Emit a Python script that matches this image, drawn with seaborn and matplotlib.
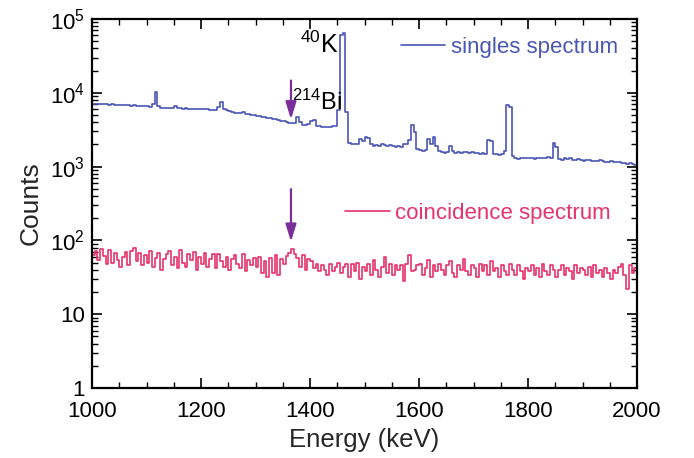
import numpy as np
import matplotlib
matplotlib.use('Agg')
import matplotlib.pyplot as plt
from matplotlib.lines import Line2D
from matplotlib.ticker import MultipleLocator, LogLocator, NullFormatter
import pandas as pd
import seaborn as sns

# 5 keV bins from 1000 to 2000 keV
bin_width = 5
energy_lo = np.arange(1000, 2000, bin_width)

singles_counts = [
    # 1000-1095
    7100, 7000, 7150, 6950, 7050, 7000, 6900, 6950, 6850, 6900,
    6800, 6850, 6750, 6800, 6700, 6750, 6650, 6700, 6600, 6650,
    # 1100-1195
    6550, 6500, 7000, 10200, 6700, 6200, 6250, 6150, 6200, 6300,
    6650, 6150, 6200, 6100, 6150, 6100, 6050, 6100, 6000, 6050,
    # 1200-1295
    6000, 5950, 6000, 5900, 5850, 5850, 6500, 7500, 6100, 5800,
    5650, 5550, 5400, 5350, 5300, 5450, 5200, 5100, 5000, 4950,
    # 1300-1395
    4900, 4850, 4700, 4650, 4550, 4500, 4400, 4350, 4250, 4200,
    4100, 4000, 3950, 3850, 3900, 4700, 4000, 3700, 3650, 3750,
    # 1400-1495
    4200, 4250, 3600, 3500, 3450, 3450, 3400, 3450, 3500, 3550,
    5900, 60000, 65000, 5500, 2100, 2050, 2000, 2050, 2350, 2200,
    # 1500-1595
    2500, 2450, 2000, 1900, 1950, 1900, 2000, 1950, 1900, 1950,
    1900, 1850, 1900, 1850, 2000, 2050, 2300, 3650, 2950, 1750,
    # 1600-1695
    1700, 1650, 1700, 2400, 2000, 2550, 1900, 1650, 1600, 1550,
    1600, 1900, 1650, 1550, 1600, 1550, 1580, 1560, 1540, 1560,
    # 1700-1795
    1520, 1530, 1500, 1550, 1500, 2300, 2200, 1500, 1480, 1450,
    1460, 1650, 6800, 6500, 1400, 1300, 1280, 1300, 1320, 1290,
    # 1800-1895
    1310, 1300, 1280, 1300, 1290, 1310, 1320, 1330, 1300, 2100,
    1850, 1250, 1230, 1320, 1250, 1300, 1240, 1220, 1260, 1230,
    # 1900-1995
    1210, 1240, 1220, 1200, 1210, 1190, 1230, 1180, 1170, 1160,
    1180, 1150, 1140, 1160, 1110, 1130, 1100, 1120, 1080, 1040,
]

coinc_counts = [
    # 1000-1095
    64, 72, 55, 76, 62, 48, 74, 50, 68, 54,
    44, 60, 70, 46, 72, 78, 52, 68, 46, 64,
    # 1100-1195
    50, 72, 44, 58, 68, 40, 56, 66, 72, 46,
    60, 42, 74, 50, 44, 66, 54, 70, 40, 60,
    # 1200-1295
    48, 68, 44, 56, 66, 42, 66, 52, 44, 60,
    40, 56, 64, 48, 42, 66, 38, 54, 46, 58,
    # 1300-1395
    44, 60, 36, 52, 32, 58, 36, 64, 34, 56,
    48, 62, 68, 76, 66, 58, 44, 64, 40, 56,
    # 1400-1495
    52, 42, 48, 38, 46, 40, 34, 48, 38, 44,
    50, 36, 44, 48, 32, 48, 38, 50, 30, 44,
    # 1500-1595
    38, 48, 34, 54, 40, 32, 44, 60, 36, 48,
    34, 46, 40, 46, 28, 48, 64, 38, 40, 46,
    # 1600-1695
    48, 34, 42, 54, 32, 46, 38, 48, 40, 34,
    46, 52, 36, 32, 46, 40, 56, 38, 34, 46,
    # 1700-1795
    42, 32, 48, 38, 46, 34, 52, 38, 42, 32,
    46, 38, 34, 48, 40, 34, 46, 38, 30, 42,
    # 1800-1895
    38, 46, 34, 42, 32, 48, 38, 34, 46, 40,
    32, 40, 46, 34, 42, 38, 30, 46, 36, 42,
    # 1900-1995
    40, 34, 44, 32, 46, 36, 40, 32, 42, 36,
    30, 40, 36, 44, 48, 34, 22, 46, 36, 42,
]

y_ticks = [1, 10, 100, 1000, 10000, 100000]
y_tick_labels = ['1', '10', '$10^{2}$', '$10^{3}$', '$10^{4}$', '$10^{5}$']

blue = '#4a56b4'
red = '#e5336b'
purple = '#7a2f9b'

sns.set_theme(style='ticks')
plt.rcParams['font.family'] = ['Liberation Sans', 'DejaVu Sans']
plt.rcParams['mathtext.fontset'] = 'custom'
plt.rcParams['mathtext.rm'] = 'Liberation Sans'
plt.rcParams['mathtext.it'] = 'Liberation Sans:italic'
plt.rcParams['mathtext.default'] = 'regular'

df = pd.DataFrame({'energy': energy_lo + bin_width / 2,
                   'singles': singles_counts,
                   'coinc': coinc_counts})

fig, ax = plt.subplots(figsize=(6.94, 4.58), dpi=100)
fig.subplots_adjust(left=0.1326, right=0.918, bottom=0.1528, top=0.9585)

sns.histplot(data=df, x='energy', weights='singles', binwidth=bin_width, binrange=(1000, 2000),
             element='step', fill=False, color=blue, linewidth=1.2, ax=ax)
sns.histplot(data=df, x='energy', weights='coinc', binwidth=bin_width, binrange=(1000, 2000),
             element='step', fill=False, color=red, linewidth=1.2, ax=ax)

ax.set_yscale('log')
ax.set_xlim(1000, 2000)
ax.set_ylim(1, 1e5)
ax.set_yticks(y_ticks, labels=y_tick_labels)
ax.yaxis.set_minor_locator(LogLocator(base=10, subs=np.arange(2, 10)))
ax.yaxis.set_minor_formatter(NullFormatter())
ax.xaxis.set_major_locator(MultipleLocator(200))
ax.xaxis.set_minor_locator(MultipleLocator(50))

for s in ax.spines.values():
    s.set_visible(True)
    s.set_linewidth(1.6)
    s.set_color('black')
ax.tick_params(which='both', direction='in', top=True, right=True, colors='black')
ax.tick_params(which='major', length=7, width=1.2, labelsize=16)
ax.tick_params(which='minor', length=4, width=1.0)
ax.tick_params(axis='x', pad=9)
ax.tick_params(axis='y', pad=5)

ax.set_xlabel('Energy (keV)', fontsize=18.5, labelpad=5)
ax.set_ylabel('Counts', fontsize=19, labelpad=5)

# legends
leg1 = ax.legend(handles=[Line2D([], [], color=blue, lw=1.2)], labels=['singles spectrum'],
                 loc='center right', bbox_to_anchor=(0.965, 0.924), frameon=False,
                 fontsize=16, labelcolor=blue, handlelength=2.0, handletextpad=0.25,
                 borderpad=0, borderaxespad=0)
ax.add_artist(leg1)
ax.legend(handles=[Line2D([], [], color=red, lw=1.2)], labels=['coincidence spectrum'],
          loc='center right', bbox_to_anchor=(0.952, 0.474), frameon=False,
          fontsize=16, labelcolor=red, handlelength=2.0, handletextpad=0.25,
          borderpad=0, borderaxespad=0)

# isotope labels and arrows
ax.text(1382, 4.5e4, '$^{40}$K', fontsize=18, ha='left', va='center', color='black')
ax.text(1366, 7.5e3, '$^{214}$Bi', fontsize=17, ha='left', va='center', color='black')
arrow = dict(arrowstyle='-|>,head_length=0.65,head_width=0.2', color=purple, lw=1.6,
             mutation_scale=16)
ax.annotate('', xy=(1365, 4.0e3), xytext=(1365, 1.6e4), arrowprops=arrow)
ax.annotate('', xy=(1365, 88), xytext=(1365, 540), arrowprops=arrow)

fig.savefig('out.png', dpi=100)
